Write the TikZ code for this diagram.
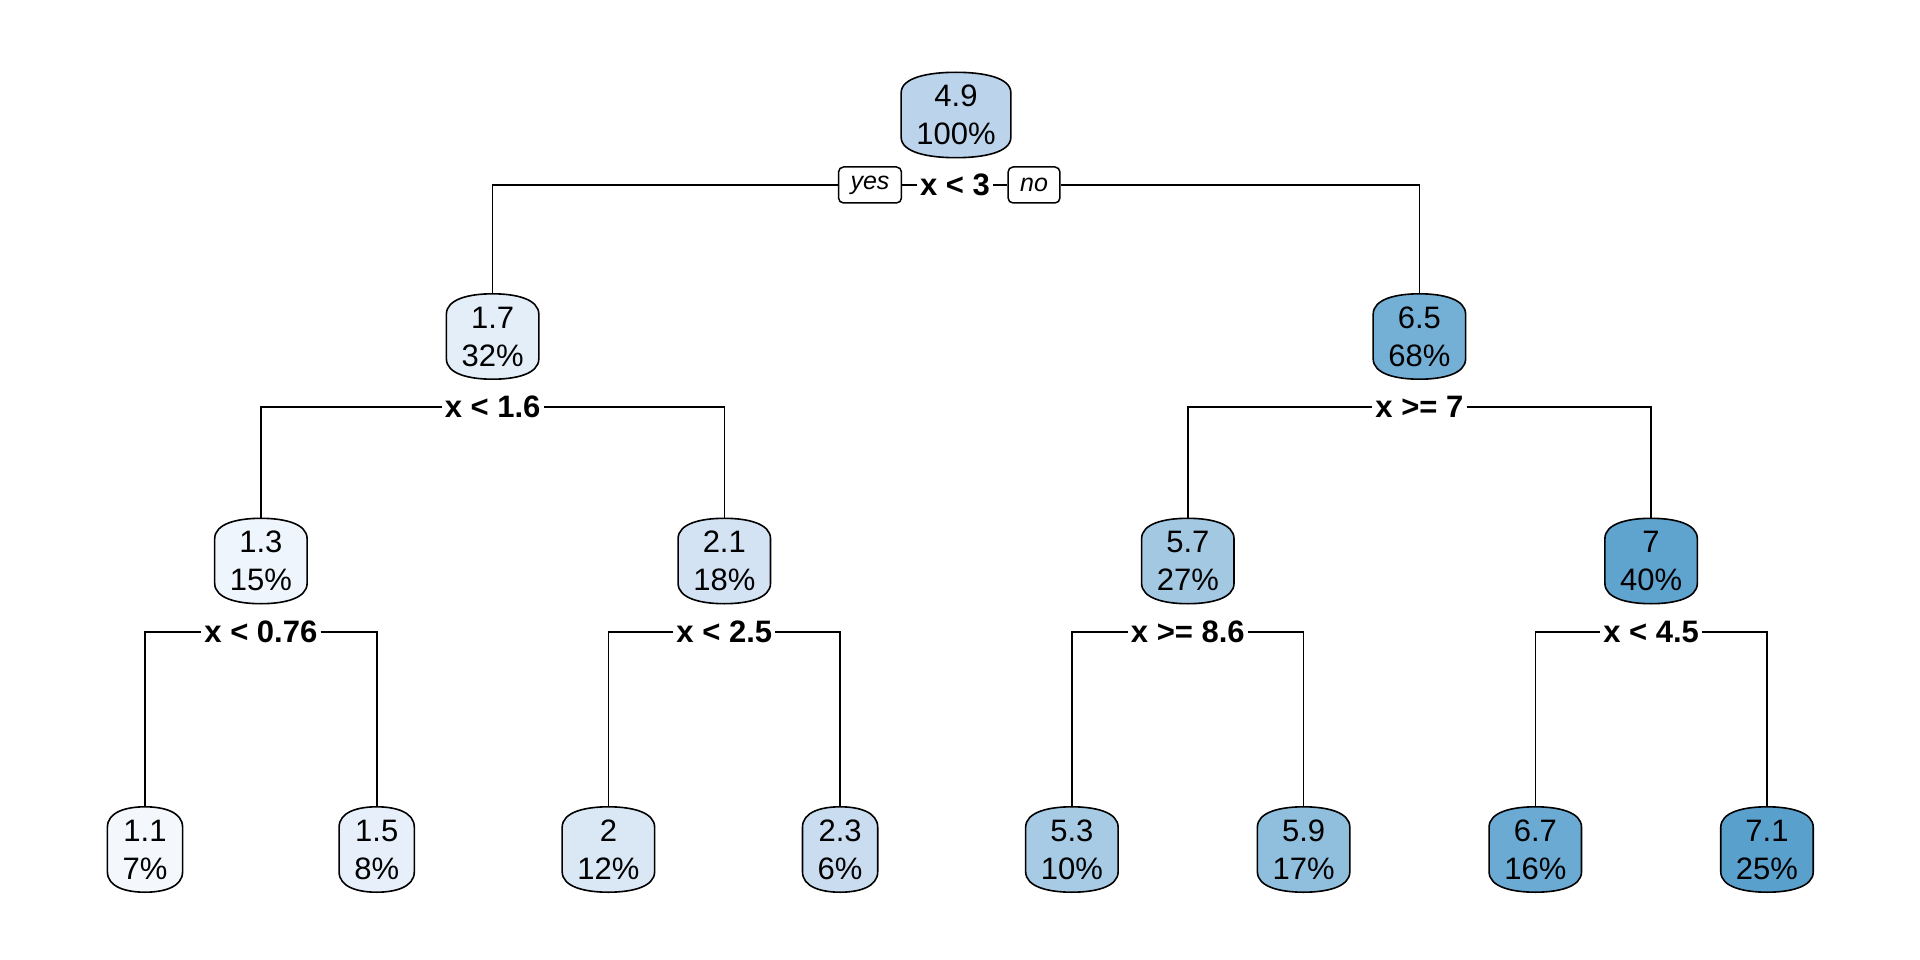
\documentclass[tikz,border=0pt]{standalone}
\usepackage{fontspec}
\setmainfont{Liberation Sans}
\usetikzlibrary{calc,backgrounds}

% fill colours of the fitted values (light = small, dark = large)
\definecolor{v11}{HTML}{F4F8FD}
\definecolor{v13}{HTML}{EEF5FC}
\definecolor{v15}{HTML}{E7F0FA}
\definecolor{v17}{HTML}{E3EEF9}
\definecolor{v20}{HTML}{DAE8F6}
\definecolor{v21}{HTML}{D3E3F3}
\definecolor{v23}{HTML}{C9DCF0}
\definecolor{v49}{HTML}{BBD4EC}
\definecolor{v53}{HTML}{A8CBE5}
\definecolor{v57}{HTML}{A2C8E2}
\definecolor{v59}{HTML}{8FBFDD}
\definecolor{v65}{HTML}{74AFD6}
\definecolor{v67}{HTML}{6AAAD3}
\definecolor{v70}{HTML}{5FA3CF}
\definecolor{v71}{HTML}{5AA0CD}

\tikzset{
  treenode/.style={inner xsep=15pt, inner ysep=0pt, minimum height=85pt,
    align=center, font=\fontsize{31}{38}\selectfont},
  splitlabel/.style={inner xsep=3pt, inner ysep=0pt,
    font=\fontsize{31}{36}\selectfont\bfseries},
  tag/.style={draw, line width=1.5pt, rounded corners=5pt, fill=white,
    inner xsep=12pt, inner ysep=0pt, minimum height=36pt,
    font=\fontsize{25}{28}\selectfont\itshape},
  edge/.style={line width=1.6pt},
}

% barrel-shaped box around a named node: straight sides, bulging top and bottom
\newcommand\barrelbox[2]{%
  \draw[edge, fill=#2] let \p1=(#1.north west), \p2=(#1.south east),
      \n1={\x2-\x1}, \n2={\y1-\y2} in
    (\x1,{\y1-0.24*\n2}) -- (\x1,{\y2+0.24*\n2})
    .. controls (\x1,{\y2+0.06*\n2}) and ({\x1+0.25*\n1},\y2) .. ({(\x1+\x2)/2},\y2)
    .. controls ({\x2-0.25*\n1},\y2) and (\x2,{\y2+0.06*\n2}) .. (\x2,{\y2+0.24*\n2})
    -- (\x2,{\y1-0.24*\n2})
    .. controls (\x2,{\y1-0.06*\n2}) and ({\x2-0.25*\n1},\y1) .. ({(\x1+\x2)/2},\y1)
    .. controls ({\x1+0.25*\n1},\y1) and (\x1,{\y1-0.06*\n2}) .. cycle;
}

\begin{document}
\begin{tikzpicture}[x=1pt, y=-1pt]
\useasboundingbox (0,0) rectangle (1920,960);

% tree nodes
\node[treenode] (root) at (956,115)   {4.9\\100\%};
\node[treenode] (n1)   at (492.6,336.5) {1.7\\32\%};
\node[treenode] (n2)   at (1419.4,336.5) {6.5\\68\%};
\node[treenode] (n3)   at (260.9,561) {1.3\\15\%};
\node[treenode] (n4)   at (724.3,561) {2.1\\18\%};
\node[treenode] (n5)   at (1187.8,561) {5.7\\27\%};
\node[treenode] (n6)   at (1651.1,561) {7\\40\%};
\node[treenode] (l1)   at (145,849.5)   {1.1\\7\%};
\node[treenode] (l2)   at (376.7,849.5) {1.5\\8\%};
\node[treenode] (l3)   at (608.4,849.5) {2\\12\%};
\node[treenode] (l4)   at (840.1,849.5) {2.3\\6\%};
\node[treenode] (l5)   at (1071.9,849.5) {5.3\\10\%};
\node[treenode] (l6)   at (1303.6,849.5) {5.9\\17\%};
\node[treenode] (l7)   at (1535.3,849.5) {6.7\\16\%};
\node[treenode] (l8)   at (1767,849.5)   {7.1\\25\%};

\begin{pgfonlayer}{background}
  \barrelbox{root}{v49}
  \barrelbox{n1}{v17}
  \barrelbox{n2}{v65}
  \barrelbox{n3}{v13}
  \barrelbox{n4}{v21}
  \barrelbox{n5}{v57}
  \barrelbox{n6}{v70}
  \barrelbox{l1}{v11}
  \barrelbox{l2}{v15}
  \barrelbox{l3}{v20}
  \barrelbox{l4}{v23}
  \barrelbox{l5}{v53}
  \barrelbox{l6}{v59}
  \barrelbox{l7}{v67}
  \barrelbox{l8}{v71}
\end{pgfonlayer}

% split rules
\node[splitlabel] (s0) at (955,185)    {x < 3};
\node[tag]        (yes) at (870,185)   {yes};
\node[tag]        (no)  at (1034,185)  {no};
\node[splitlabel] (s1) at (492.6,407)  {x < 1.6};
\node[splitlabel] (s2) at (1419.4,407) {x >= 7};
\node[splitlabel] (s3) at (260.9,632)  {x < 0.76};
\node[splitlabel] (s4) at (724.3,632)  {x < 2.5};
\node[splitlabel] (s5) at (1187.8,632) {x >= 8.6};
\node[splitlabel] (s6) at (1651.1,632) {x < 4.5};

% branches
\draw[edge] (yes.east) -- (s0.west);
\draw[edge] (s0.east) -- (no.west);
\draw[edge] (yes.west) -| (n1.north);
\draw[edge] (no.east) -| (n2.north);
\draw[edge] (s1.west) -| (n3.north);
\draw[edge] (s1.east) -| (n4.north);
\draw[edge] (s2.west) -| (n5.north);
\draw[edge] (s2.east) -| (n6.north);
\draw[edge] (s3.west) -| (l1.north);
\draw[edge] (s3.east) -| (l2.north);
\draw[edge] (s4.west) -| (l3.north);
\draw[edge] (s4.east) -| (l4.north);
\draw[edge] (s5.west) -| (l5.north);
\draw[edge] (s5.east) -| (l6.north);
\draw[edge] (s6.west) -| (l7.north);
\draw[edge] (s6.east) -| (l8.north);
\end{tikzpicture}
\end{document}
